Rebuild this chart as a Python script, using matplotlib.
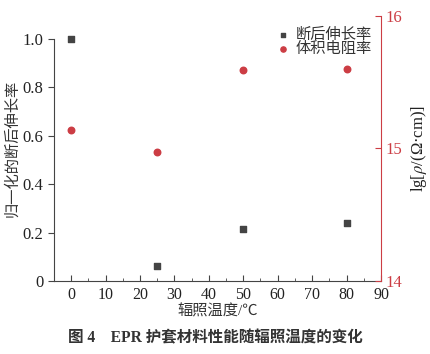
import matplotlib
matplotlib.use('Agg')
import matplotlib.pyplot as plt
from matplotlib.ticker import MultipleLocator

plt.rcParams['font.family'] = ['Liberation Serif', 'Noto Sans CJK SC']
plt.rcParams['mathtext.fontset'] = 'stix'

# data
temp = [0, 25, 50, 80]
elong = [1.0, 0.063, 0.215, 0.24]
resist = [15.14, 14.97, 15.59, 15.60]

dark = '#444444'
red = '#cc3d44'

fig = plt.figure(figsize=(4.31, 3.54), dpi=100)
ax = fig.add_axes([0.125, 0.206, 0.759, 0.750])
ax2 = ax.twinx()

h1 = ax.scatter(temp, elong, marker='s', s=16, color=dark, label='断后伸长率', zorder=3)
h2 = ax2.scatter(temp, resist, marker='o', s=22, color=red, label='体积电阻率', zorder=3)

ax.set_xlim(-5, 90)
ax.set_ylim(0, 1.096)
ax2.set_ylim(14, 16)

ax.set_xticks(range(0, 91, 10))
ax.xaxis.set_minor_locator(MultipleLocator(5))
ax.set_yticks([0, 0.2, 0.4, 0.6, 0.8, 1.0])
ax.set_yticklabels(['0', '0.2', '0.4', '0.6', '0.8', '1.0'])
ax2.set_yticks([14, 15, 16])

for a in (ax, ax2):
    a.spines['top'].set_visible(False)
ax.spines['right'].set_visible(False)
ax.spines['left'].set_bounds(0, 1.0)
ax.spines['left'].set_color(dark)
ax.spines['bottom'].set_color(dark)
ax2.spines['left'].set_visible(False)
ax2.spines['bottom'].set_visible(False)
ax2.spines['right'].set_color(red)

ax.tick_params(axis='x', direction='in', length=4, color=dark, labelsize=11.5, labelcolor='#222222', pad=4)
ax.tick_params(axis='x', which='minor', direction='in', length=2, color=dark)
ax.tick_params(axis='y', direction='out', length=4, color=dark, labelsize=12, labelcolor='#222222')
ax2.tick_params(axis='y', direction='in', length=4, color=red, labelsize=12, labelcolor=red, pad=3)

ax.set_xlabel('辐照温度/℃', fontsize=11, color='#333333', labelpad=1)
ax.set_ylabel('归一化的断后伸长率', fontsize=11, color='#333333', labelpad=2)
ax2.set_ylabel(r'lg[$\rho$/(Ω·cm)]', fontsize=12, color='#222222', labelpad=5)

ax.legend(handles=[h1, h2], loc='upper right', bbox_to_anchor=(1.0, 0.99),
          frameon=False, fontsize=11, handletextpad=-0.2, borderaxespad=0.2,
          labelspacing=0.05, markerscale=0.8, labelcolor='#333333')

fig.text(0.5, 0.045, '图 4　EPR 护套材料性能随辐照温度的变化', ha='center', va='center',
         fontsize=11.2, fontweight='bold', color='#333333')

fig.savefig('out.png', dpi=100)
